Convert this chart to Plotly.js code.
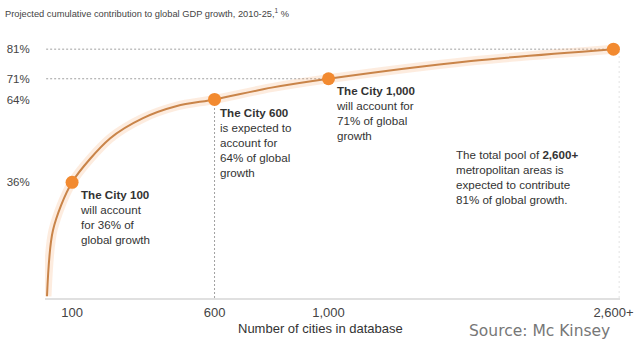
<!DOCTYPE html>
<html>
<head>
<meta charset="utf-8">
<script src="https://cdn.plot.ly/plotly-3.0.1.min.js"></script>
<style>
  html, body { margin: 0; padding: 0; background: #fff; overflow: hidden; }
  #chart { width: 634px; height: 339px; }
</style>
</head>
<body>
<div id="chart"></div>
<script>
// ---- data ----
const milestoneLabels = ['100', '600', '1,000', '2,600+'];
// position on the chart's own (compressed) x scale; the 2,600+ group sits at the 2,000 mark
const milestoneX = [100, 600, 1000, 2000];
const milestoneShare = [36, 64, 71, 81];
const milestoneTickText = ['36%', '64%', '71%', '81%'];

// cumulative curve
const curveX = [12, 33, 100, 233, 349, 468, 600, 800, 1000, 1500, 2000];
const curveShare = [-2.5, 19.8, 36, 50.8, 57.7, 61.8, 64, 68, 71, 77, 81];

const calloutText = [
  '<b>The City 100</b><br>will account<br>for 36% of<br>global growth',
  '<b>The City 600</b><br>is expected to<br>account for<br>64% of global<br>growth',
  '<b>The City 1,000</b><br>will account for<br>71% of global<br>growth',
  'The total pool of <b>2,600+</b><br>metropolitan areas is<br>expected to contribute<br>81% of global growth.'
];

const titleText = 'Projected cumulative contribution to global GDP growth, 2010-25,<sup>1</sup> %';
const xTitle = 'Number of cities in database';
const sourceText = 'Source: Mc Kinsey';

// ---- traces ----
const FONT = 'Liberation Sans, Arial, sans-serif';
const traces = [
  { // soft glow under the curve
    x: curveX, y: curveShare, mode: 'lines', hoverinfo: 'skip',
    line: { color: 'rgba(245,170,110,0.22)', width: 9, shape: 'spline', smoothing: 0.8 },
    showlegend: false, cliponaxis: false
  },
  {
    x: curveX, y: curveShare, mode: 'lines',
    line: { color: '#c98449', width: 2, shape: 'spline', smoothing: 0.8 },
    showlegend: false, cliponaxis: false
  },
  {
    x: milestoneX, y: milestoneShare, mode: 'markers',
    marker: { color: '#f28a30', size: 13, line: { width: 0 } },
    showlegend: false, cliponaxis: false
  }
];

// ---- guide lines ----
const dotted = { color: '#a0a0a0', width: 1, dash: '2px,2px' };
const xMin = 5, xMax = 2023, yMin = -3.1, yMax = 84.1;
const shapes = [
  { type: 'line', xref: 'x', yref: 'y', x0: xMin - 10, x1: milestoneX[3], y0: milestoneShare[3], y1: milestoneShare[3], line: dotted, layer: 'below' },
  { type: 'line', xref: 'x', yref: 'y', x0: xMin - 10, x1: milestoneX[2], y0: milestoneShare[2], y1: milestoneShare[2], line: dotted, layer: 'below' },
  { type: 'line', xref: 'x', yref: 'y', x0: milestoneX[1], x1: milestoneX[1], y0: yMin, y1: milestoneShare[1], line: dotted, layer: 'below' },
  { type: 'line', xref: 'x', yref: 'y', x0: milestoneX[3] + 20, x1: milestoneX[3] + 20, y0: yMin, y1: milestoneShare[3], line: { color: '#e4e4e4', width: 1, dash: '2px,3px' }, layer: 'below' }
];

// ---- callouts ----
const annFont = { family: FONT, size: 11.6, color: '#333' };
const annotations = [
  { xref: 'x', yref: 'y', x: milestoneX[0], y: milestoneShare[0], text: calloutText[0], showarrow: false,
    xanchor: 'left', yanchor: 'top', align: 'left', xshift: 6, yshift: -4, font: annFont },
  { xref: 'x', yref: 'y', x: milestoneX[1], y: milestoneShare[1], text: calloutText[1], showarrow: false,
    xanchor: 'left', yanchor: 'top', align: 'left', xshift: 3, yshift: -5, font: annFont },
  { xref: 'x', yref: 'y', x: milestoneX[2], y: milestoneShare[2], text: calloutText[2], showarrow: false,
    xanchor: 'left', yanchor: 'top', align: 'left', xshift: 5, yshift: -3, font: annFont },
  { xref: 'x', yref: 'y', x: 1440, y: milestoneShare[1], text: calloutText[3], showarrow: false,
    xanchor: 'left', yanchor: 'top', align: 'left', yshift: -47, font: annFont },
  { xref: 'paper', yref: 'paper', x: 275 / 575, y: 0, yshift: -30, text: xTitle, showarrow: false,
    xanchor: 'center', yanchor: 'middle', font: { family: FONT, size: 13, color: '#333' } },
  { xref: 'paper', yref: 'paper', x: 422 / 575, y: 0, yshift: -33, text: sourceText, showarrow: false,
    xanchor: 'left', yanchor: 'middle', font: { family: 'DejaVu Sans, Verdana, sans-serif', size: 15.5, color: '#777' } }
];

const layout = {
  width: 634, height: 339,
  margin: { l: 45, r: 14, t: 40, b: 41 },
  paper_bgcolor: '#fff', plot_bgcolor: '#fff',
  font: { family: FONT, size: 11, color: '#333' },
  title: {
    text: titleText, xref: 'container', yref: 'container', x: 5 / 634, xanchor: 'left',
    y: 1 - 14 / 339, yanchor: 'middle', font: { family: FONT, size: 9.3, color: '#444' }
  },
  xaxis: {
    range: [xMin, xMax], showgrid: false, zeroline: false,
    showline: true, linecolor: '#e0e0e0', linewidth: 1.5,
    tickmode: 'array', tickvals: milestoneX, ticktext: milestoneLabels,
    ticks: 'outside', ticklen: 2, tickcolor: 'rgba(0,0,0,0)',
    tickfont: { family: FONT, size: 13, color: '#444' },
    automargin: false, fixedrange: true
  },
  yaxis: {
    range: [yMin, yMax], showgrid: false, zeroline: false, showline: false,
    tickmode: 'array', tickvals: milestoneShare, ticktext: milestoneTickText,
    ticks: 'outside', ticklen: 12, tickcolor: 'rgba(0,0,0,0)',
    tickfont: { family: FONT, size: 11.5, color: '#444' },
    automargin: false, fixedrange: true
  },
  shapes: shapes,
  annotations: annotations,
  showlegend: false
};

Plotly.newPlot('chart', traces, layout, { displayModeBar: false, staticPlot: true });
</script>
</body>
</html>
